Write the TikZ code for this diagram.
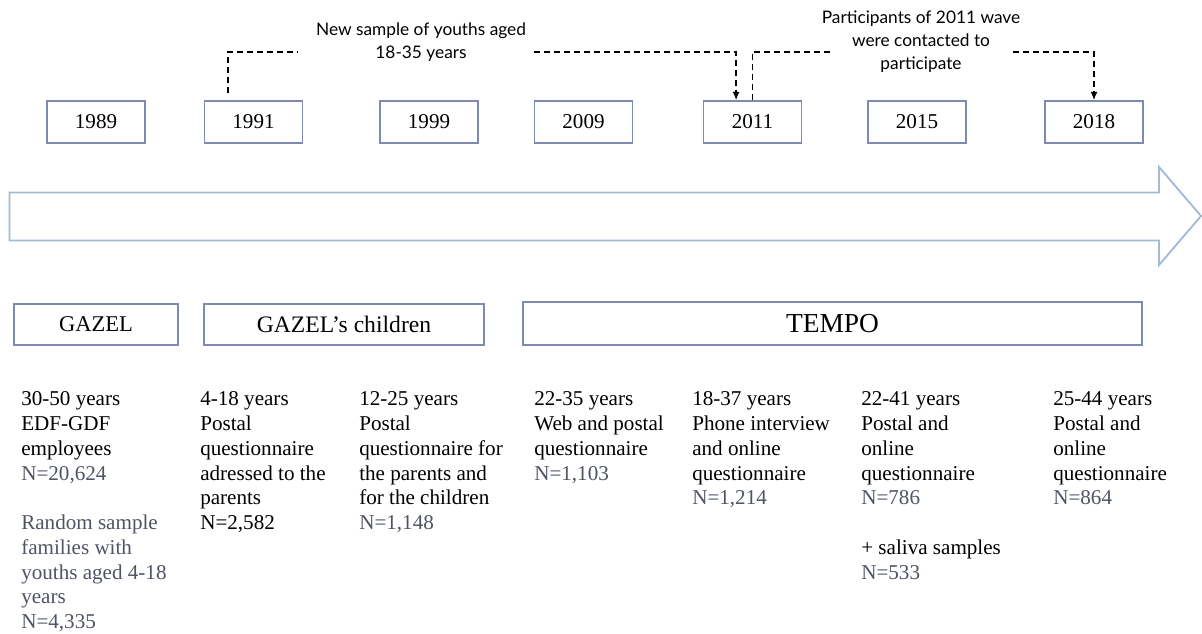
\documentclass[tikz,border=0pt]{standalone}
\usepackage{fontspec}
\setmainfont{Liberation Serif}
\newfontfamily\notefont{Lato}
\usetikzlibrary{arrows.meta}
\definecolor{boxline}{RGB}{127,137,178}
\definecolor{arrowline}{RGB}{163,187,210}
\definecolor{ngrey}{RGB}{78,84,98}

\begin{document}
\begin{tikzpicture}[
  x=0.025cm, y=-0.025cm,
  yearbox/.style={rectangle, draw=boxline, line width=1pt, minimum width=2.45cm, minimum height=1.05cm, font=\fontsize{15}{18}\selectfont},
  groupbox/.style={rectangle, draw=boxline, line width=1pt, minimum height=1.03cm, font=\fontsize{16}{19}\selectfont},
  info/.style={anchor=north west, inner sep=0pt, align=left, font=\fontsize{15}{17.6}\selectfont},
  note/.style={align=center, inner sep=0pt, font=\notefont\fontsize{12.3}{16.4}\selectfont},
  link/.style={line width=1.2pt, dash pattern=on 4.3pt off 2.8pt},
  >={Latex[length=6pt,width=5pt]}
]
\useasboundingbox (0,0) rectangle (1202,633);

% time line
\draw[arrowline, line width=1.3pt, fill=white] (9.5,192.5) -- (1159,192.5) -- (1159,167) -- (1201,216)
  -- (1159,265) -- (1159,240.5) -- (9.5,240.5) -- cycle;

% years
\node[yearbox] (y1989) at (96,122) {1989};
\node[yearbox] (y1991) at (253.5,122) {1991};
\node[yearbox] (y1999) at (429,122) {1999};
\node[yearbox] (y2009) at (583.5,122) {2009};
\node[yearbox] (y2011) at (752.5,122) {2011};
\node[yearbox] (y2015) at (917,122) {2015};
\node[yearbox] (y2018) at (1094,122) {2018};

% notes over the years
\node[note] (newsample) at (421,42) {New sample of youths aged\\18-35 years};
\node[note] (contacted) at (921,42) {Participants of 2011 wave\\were contacted to\\participate};
\coordinate (ns-l) at (297,52);
\coordinate (ns-r) at (534,52);
\coordinate (pc-l) at (831,52);
\coordinate (pc-r) at (1013,52);

\draw[link] ([xshift=-0.64cm,yshift=0.18cm]y1991.north) |- (ns-l);
\draw[link,->] (ns-r) -| ([xshift=-0.41cm]y2011.north);
\draw[link] (y2011.north) |- (pc-l);
\draw[link,->] (pc-r) -| (y2018.north);

% cohorts
\node[groupbox, minimum width=4.1cm] (gazel) at (96,324.5) {GAZEL};
\node[groupbox, minimum width=7cm, font=\fontsize{16.8}{20}\selectfont] (children) at (344,324.5) {GAZEL's children};
\node[groupbox, minimum width=15.475cm, minimum height=1.075cm, font=\fontsize{19.5}{23}\selectfont] (tempo) at (832.5,323.5) {TEMPO};

% waves
\node[info] (info1989) at (21,391.5) {30-50 years\\EDF-GDF\\employees\\\textcolor{ngrey}{N=20,624}\\[17.6pt]
  \textcolor{ngrey}{Random sample}\\\textcolor{ngrey}{families with}\\\textcolor{ngrey}{youths aged 4-18}\\\textcolor{ngrey}{years}\\\textcolor{ngrey}{N=4,335}};
\node[info] (info1991) at (200,391.5) {4-18 years\\Postal\\questionnaire\\adressed to the\\parents\\N=2,582};
\node[info] (info1999) at (359,391.5) {12-25 years\\Postal\\questionnaire for\\the parents and\\for the children\\\textcolor{ngrey}{N=1,148}};
\node[info] (info2009) at (534,391.5) {22-35 years\\Web and postal\\questionnaire\\\textcolor{ngrey}{N=1,103}};
\node[info] (info2011) at (692,391.5) {18-37 years\\Phone interview\\and online\\questionnaire\\\textcolor{ngrey}{N=1,214}};
\node[info] (info2015) at (861,391.5) {22-41 years\\Postal and\\online\\questionnaire\\\textcolor{ngrey}{N=786}\\[17.6pt]
  + saliva samples\\\textcolor{ngrey}{N=533}};
\node[info] (info2018) at (1053,391.5) {25-44 years\\Postal and\\online\\questionnaire\\\textcolor{ngrey}{N=864}};
\end{tikzpicture}
\end{document}
